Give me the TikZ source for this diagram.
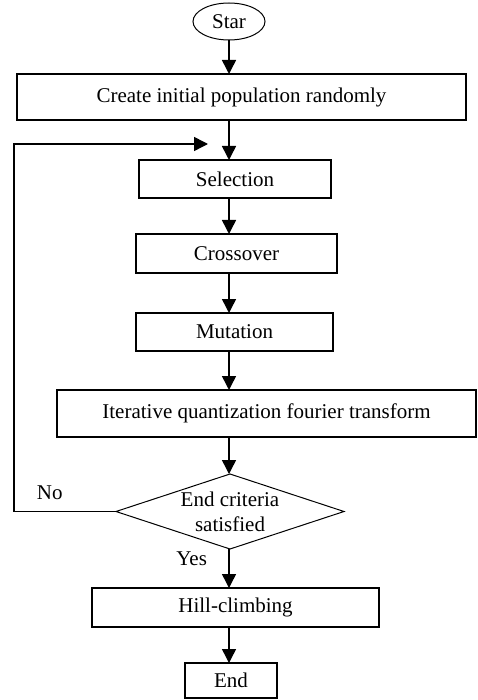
\documentclass[tikz,border=0pt]{standalone}
\usepackage{fontspec}
\setmainfont{Liberation Serif}
\usetikzlibrary{arrows.meta,positioning,shapes.geometric,calc}

\begin{document}
\begin{tikzpicture}[
    font=\fontsize{21}{25}\selectfont,
    box/.style={draw, line width=1.5pt, inner sep=0pt, outer sep=0pt, align=center},
    term/.style={draw, ellipse, line width=1pt, inner sep=0pt, outer sep=0pt, minimum width=72pt, minimum height=37pt},
    cond/.style={draw, diamond, aspect=3, line width=1pt, inner sep=0pt, outer sep=0pt, align=center, minimum width=228pt, minimum height=75pt},
    arrow/.style={-{Triangle[width=14pt,length=14pt]}, line width=1.5pt}
]
\useasboundingbox (0,0) rectangle (477pt,-700pt);
\node[term] (star) at (229pt,-21.5pt) {Star};
\node[box, minimum width=449pt, minimum height=46pt, below=34pt of star, xshift=12.5pt] (create) {Create initial population randomly};
\node[box, minimum width=192pt, minimum height=38pt, below=40pt of create, xshift=-6.5pt] (sel) {Selection};
\node[box, minimum width=201pt, minimum height=39pt, below=36pt of sel, xshift=1.5pt] (cross) {Crossover};
\node[box, minimum width=197pt, minimum height=38pt, below=40pt of cross, xshift=-2pt] (mut) {Mutation};
\node[box, minimum width=419pt, minimum height=47pt, below=39pt of mut, xshift=32pt] (iqft) {Iterative quantization fourier transform};
\node[cond, below=37pt of iqft, xshift=-36.5pt] (dec) {End criteria\\satisfied};
\node[box, minimum width=287pt, minimum height=39pt, below=39pt of dec, xshift=5.5pt] (hill) {Hill-climbing};
\node[box, minimum width=92pt, minimum height=35pt, below=36pt of hill, xshift=-4.5pt] (end) {End};
\coordinate (join) at ($(create.south -| star)+(-21pt,-24pt)$);
\coordinate (back) at ($(dec.west)+(-102pt,0)$);
\draw[arrow] (star.south) -- (create.north -| star);
\draw[arrow] (create.south -| star) -- (sel.north -| star);
\draw[arrow] (sel.south -| star) -- (cross.north -| star);
\draw[arrow] (cross.south -| star) -- (mut.north -| star);
\draw[arrow] (mut.south -| star) -- (iqft.north -| star);
\draw[arrow] (iqft.south -| star) -- (dec.north -| star);
\draw[arrow] (dec.south -| star) -- node[left=18pt, pos=0.25]{Yes} (hill.north -| star);
\draw[arrow] (hill.south -| star) -- (end.north -| star);
\draw[arrow] (dec.west) -- node[above=8pt, pos=0.65]{No} (back) |- (join);
\end{tikzpicture}
\end{document}
